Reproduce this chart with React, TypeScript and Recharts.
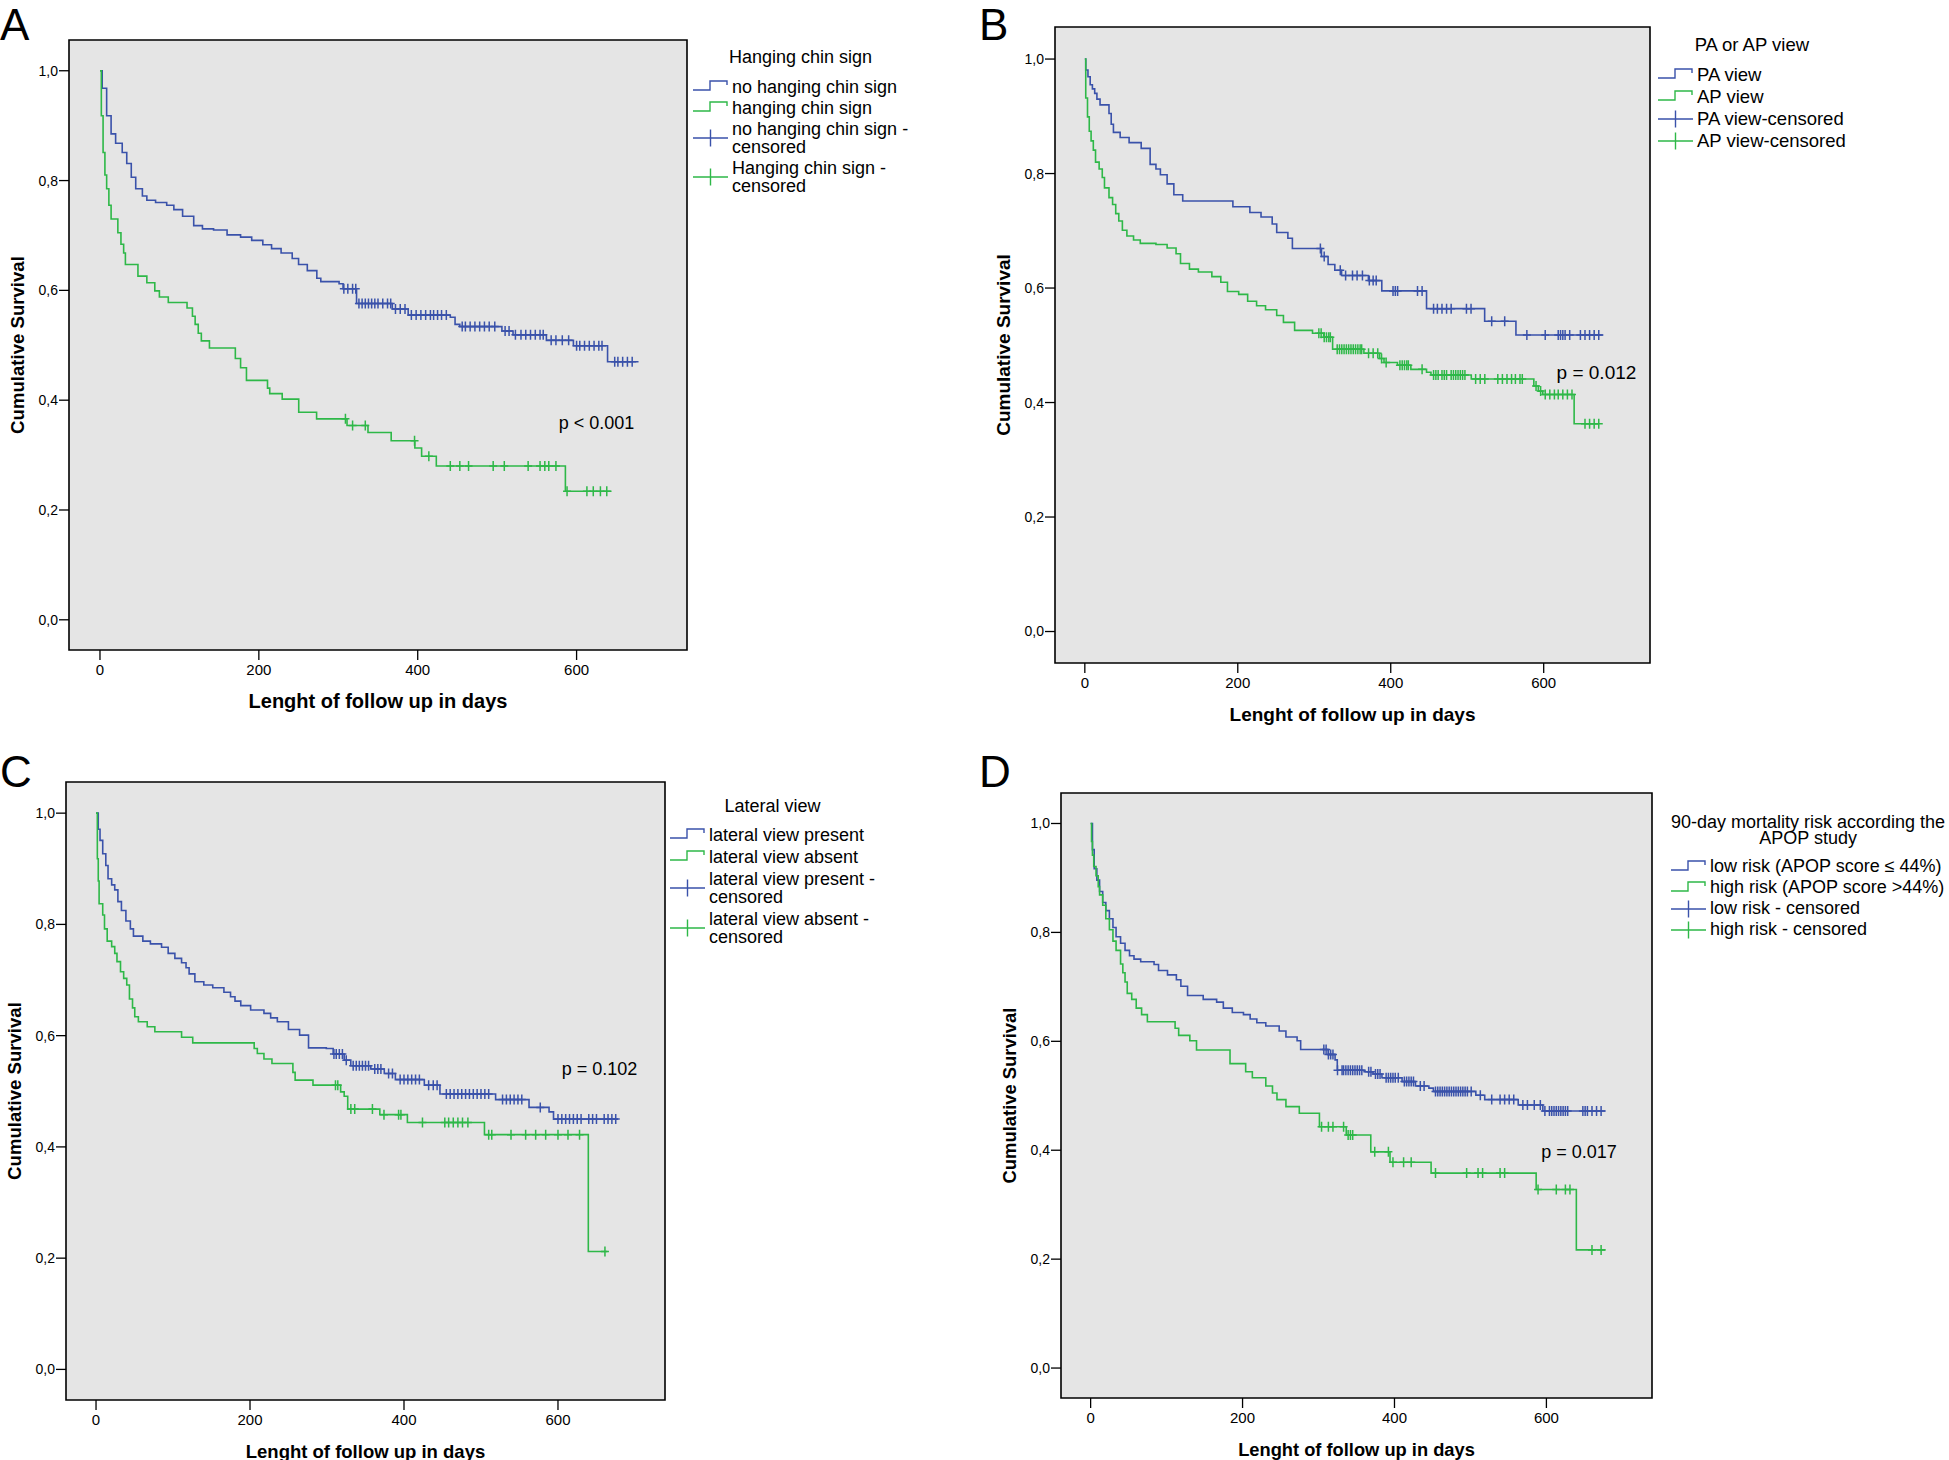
import type { CSSProperties } from "react"
import {
	ComposedChart,
	Line,
	Scatter,
	XAxis,
	YAxis,
	CartesianGrid,
	ReferenceArea,
	ReferenceDot,
} from "recharts"

type Step = [number, number]

// ---- data (days, cumulative survival)

const X_TICKS = [0, 200, 400, 600]
const Y_TICKS = [0, 0.2, 0.4, 0.6, 0.8, 1]

// A: hanging chin sign
const A_TITLE = "Hanging chin sign"
const A_LABELS = ["no hanging chin sign", "hanging chin sign", "no hanging chin sign -\ncensored", "Hanging chin sign -\ncensored"]
const A_BLUE: Step[] = [
	[0, 1], [2.8, 0.968], [8.4, 0.918], [14, 0.885], [19.7, 0.868], [28, 0.851], [33.7, 0.831], [39.4, 0.806],
	[45, 0.785], [53.4, 0.772], [59, 0.764], [70, 0.76], [84, 0.755], [93, 0.747], [104, 0.735], [118, 0.718],
	[129, 0.712], [143, 0.71], [160, 0.701], [177, 0.697], [191, 0.691], [205, 0.683], [216, 0.676], [228, 0.668],
	[242, 0.658], [250, 0.647], [261, 0.636], [273, 0.622], [278, 0.616], [301, 0.612], [306, 0.603], [323, 0.576],
	[368, 0.566], [388, 0.555], [441, 0.551], [447, 0.538], [453, 0.534], [506, 0.526], [520, 0.519], [562, 0.509],
	[596, 0.499], [639, 0.47], [678, 0.47],
]
const A_BLUE_CENS = [
	307, 312, 318, 322, 326, 330, 334, 338, 342, 346, 350, 356, 362, 366, 372, 378, 384, 392, 398, 404, 410, 416,
	420, 425, 430, 436, 456, 460, 466, 472, 478, 484, 490, 497, 510, 515, 523, 530, 536, 542, 548, 554, 558, 568,
	574, 582, 590, 600, 604, 610, 616, 622, 628, 632, 648, 652, 658, 664, 670,
]
const A_GREEN: Step[] = [
	[0, 1], [1.7, 0.918], [3.9, 0.851], [6.2, 0.81], [8.4, 0.785], [11.2, 0.755], [14, 0.73], [22.5, 0.705],
	[26.4, 0.684], [29.8, 0.668], [32, 0.647], [47.8, 0.626], [59, 0.614], [69, 0.599], [74.8, 0.588], [86, 0.578],
	[109.6, 0.568], [116.4, 0.553], [119.8, 0.538], [123.7, 0.522], [127.6, 0.508], [137.8, 0.495], [170.4, 0.476],
	[177, 0.459], [184.4, 0.436], [210.9, 0.422], [213.7, 0.412], [229.4, 0.402], [250.2, 0.378], [272.7, 0.366],
	[311, 0.354], [337.4, 0.341], [366.6, 0.326], [396.4, 0.313], [404.9, 0.298], [423.4, 0.28], [585.9, 0.234],
	[644, 0.234],
]
const A_GREEN_CENS = [309, 318, 334, 396, 414, 441, 453, 464, 495, 509, 539, 554, 560, 565, 574, 588, 613, 621, 630, 638]

// B: PA or AP view
const B_TITLE = "PA or AP view"
const B_LABELS = ["PA view", "AP view", "PA view-censored", "AP view-censored"]
const B_BLUE: Step[] = [
	[0, 1], [1.2, 0.981], [4.1, 0.969], [7, 0.955], [9.9, 0.948], [12.9, 0.94], [15.8, 0.93], [19.9, 0.92],
	[31.6, 0.905], [34.5, 0.886], [37.4, 0.872], [46.2, 0.863], [57.9, 0.854], [73.7, 0.844], [85.4, 0.816],
	[93, 0.808], [98.8, 0.798], [107.6, 0.782], [116.4, 0.763], [128, 0.752], [193.6, 0.742], [215.8, 0.732],
	[230.4, 0.724], [245, 0.712], [250.9, 0.697], [265.5, 0.687], [271.4, 0.669], [309.4, 0.655], [318.1, 0.641],
	[326.9, 0.631], [335.7, 0.622], [370.8, 0.613], [388.3, 0.595], [446.8, 0.564], [522.8, 0.542], [563.7, 0.518],
	[678, 0.518],
]
const B_BLUE_CENS = [
	308, 313, 334, 341, 350, 356, 363, 372, 377, 381, 403, 406, 409, 435, 441, 456, 461, 467, 473, 479, 499, 505,
	532, 549, 578, 602, 619, 622, 625, 628, 634, 648, 654, 660, 666, 672,
]
const B_GREEN: Step[] = [
	[0, 1], [1.2, 0.932], [3.5, 0.899], [5.8, 0.874], [8.2, 0.857], [11.1, 0.841], [14, 0.82], [18.7, 0.808],
	[22.8, 0.793], [25.7, 0.775], [31.6, 0.758], [36.3, 0.746], [40.4, 0.73], [44.4, 0.717], [49.1, 0.701],
	[55, 0.691], [63.7, 0.684], [72.5, 0.678], [93, 0.676], [107.6, 0.67], [119.3, 0.66], [125.1, 0.643],
	[136.8, 0.633], [148.5, 0.628], [166.1, 0.62], [177.8, 0.61], [186.5, 0.594], [201.2, 0.589], [212.9, 0.577],
	[224.6, 0.569], [236.3, 0.562], [250.9, 0.552], [259.7, 0.54], [274.3, 0.526], [297.7, 0.521], [312.3, 0.514],
	[324, 0.493], [364.9, 0.486], [385.4, 0.477], [391.2, 0.47], [408.8, 0.465], [426.3, 0.458], [446.8, 0.453],
	[452.6, 0.448], [505.3, 0.441], [587.1, 0.429], [593, 0.42], [598.8, 0.414], [639.8, 0.363], [672, 0.363],
]
const B_GREEN_CENS = [
	306, 309, 313, 316, 319, 321, 330, 333, 336, 339, 342, 345, 348, 351, 354, 357, 360, 362, 371, 377, 383, 388,
	394, 412, 415, 418, 421, 423, 441, 456, 459, 462, 467, 470, 473, 479, 482, 485, 488, 491, 494, 497, 511, 517,
	523, 540, 546, 552, 558, 563, 569, 572, 590, 596, 602, 608, 614, 619, 625, 631, 637, 654, 660, 666, 672,
]

// C: lateral view
const C_TITLE = "Lateral view"
const C_LABELS = ["lateral view present", "lateral view absent", "lateral view present -\ncensored", "lateral view absent -\ncensored"]
const C_BLUE: Step[] = [
	[0, 1], [2.9, 0.971], [5.2, 0.951], [8.7, 0.927], [12.7, 0.906], [15.6, 0.882], [20.3, 0.871], [24.3, 0.862],
	[28.4, 0.841], [33, 0.825], [38.8, 0.806], [44.6, 0.792], [48.6, 0.779], [60.8, 0.77], [70.6, 0.765],
	[85.1, 0.759], [93.7, 0.748], [102.4, 0.739], [111.1, 0.731], [116.9, 0.722], [120.9, 0.711], [128.4, 0.697],
	[140, 0.691], [151.6, 0.686], [166.1, 0.678], [174.7, 0.67], [180.5, 0.662], [188, 0.654], [200.8, 0.646],
	[218.1, 0.64], [226.8, 0.632], [235.5, 0.625], [249.9, 0.611], [264.4, 0.601], [276, 0.578], [299.1, 0.577],
	[308, 0.567], [322.3, 0.556], [330.9, 0.546], [356.9, 0.54], [374.4, 0.532], [388.8, 0.521], [426.4, 0.511],
	[446.7, 0.495], [519, 0.485], [562.4, 0.471], [588.4, 0.463], [594.2, 0.45], [678, 0.45],
]
const C_BLUE_CENS = [
	309, 312, 316, 320, 325, 334, 338, 342, 346, 350, 354, 362, 366, 370, 380, 385, 395, 400, 405, 410, 415, 420,
	432, 438, 443, 455, 460, 465, 470, 475, 480, 485, 490, 495, 500, 505, 510, 528, 533, 538, 543, 548, 553, 577,
	600, 605, 610, 615, 620, 625, 630, 640, 645, 650, 660, 665, 670, 675,
]
const C_GREEN: Step[] = [
	[0, 1], [1.7, 0.918], [2.9, 0.878], [4, 0.837], [8.7, 0.817], [11, 0.792], [14.5, 0.77], [20.3, 0.76],
	[24.3, 0.748], [27.2, 0.733], [31.8, 0.715], [35.9, 0.703], [39.9, 0.691], [43.4, 0.666], [47.4, 0.65],
	[50.3, 0.634], [55, 0.625], [66.5, 0.616], [76.4, 0.607], [111.1, 0.597], [125.6, 0.587], [205.4, 0.577],
	[209.5, 0.568], [218.1, 0.558], [228.5, 0.55], [255.7, 0.534], [258.6, 0.52], [281.8, 0.511], [317.7, 0.499],
	[322.3, 0.491], [326.9, 0.468], [368.6, 0.458], [404.4, 0.444], [504.5, 0.422], [639.4, 0.212], [664, 0.212],
]
const C_GREEN_CENS = [311, 314, 331, 336, 359, 374, 393, 396, 424, 453, 458, 464, 470, 476, 483, 510, 514, 539, 558, 571, 584, 600, 613, 628, 661]

// D: APOP risk
const D_TITLE = "90-day mortality risk according the\nAPOP study"
const D_LABELS = ["low risk (APOP score ≤ 44%)", "high risk (APOP score >44%)", "low risk - censored", "high risk - censored"]
const D_BLUE: Step[] = [
	[0, 1], [2.4, 0.952], [4.7, 0.917], [8.2, 0.896], [11.8, 0.875], [15.9, 0.855], [20, 0.84], [24.7, 0.825],
	[29.4, 0.809], [33.5, 0.792], [39.4, 0.78], [45.3, 0.767], [51.2, 0.757], [57.1, 0.751], [65.9, 0.746],
	[83.5, 0.741], [89.4, 0.73], [101.2, 0.722], [112.9, 0.713], [118.8, 0.701], [127.6, 0.684], [148.2, 0.677],
	[165.9, 0.672], [174.7, 0.661], [186.5, 0.653], [201.2, 0.649], [210, 0.641], [218.8, 0.634], [230.6, 0.628],
	[248.2, 0.619], [257.1, 0.608], [271.8, 0.601], [276.5, 0.585], [312.9, 0.576], [321.8, 0.566], [324.7, 0.547],
	[360, 0.544], [371.8, 0.54], [383.5, 0.533], [410, 0.526], [427.6, 0.518], [445.3, 0.514], [451.2, 0.508],
	[507.1, 0.501], [518.8, 0.493], [562.9, 0.483], [595.3, 0.472], [678, 0.472],
]
const D_BLUE_CENS = [
	307, 310, 313, 316, 319, 325, 331, 333, 336, 339, 342, 345, 348, 351, 354, 357, 366, 369, 375, 378, 381, 389,
	392, 395, 398, 401, 405, 413, 416, 419, 422, 425, 434, 439, 454, 457, 460, 463, 466, 469, 472, 475, 478, 481,
	484, 487, 490, 493, 496, 501, 513, 528, 539, 545, 551, 557, 569, 575, 584, 592, 598, 604, 607, 610, 613, 616,
	619, 622, 625, 628, 648, 651, 654, 660, 666, 672,
]
const D_GREEN: Step[] = [
	[0, 1], [1.2, 0.967], [2.4, 0.942], [4.1, 0.921], [7.1, 0.904], [10, 0.884], [11.8, 0.869], [15.9, 0.85],
	[20, 0.825], [24.7, 0.805], [29.4, 0.784], [33.5, 0.767], [39.4, 0.742], [42.4, 0.726], [45.3, 0.709],
	[48.2, 0.688], [54.1, 0.677], [60, 0.661], [67.1, 0.649], [74.7, 0.636], [111.2, 0.624], [115.9, 0.611],
	[130.6, 0.601], [139.4, 0.584], [183.5, 0.559], [204.1, 0.544], [212.9, 0.533], [230.6, 0.518], [239.4, 0.505],
	[245.3, 0.493], [257.1, 0.48], [274.7, 0.468], [301.2, 0.443], [336.5, 0.428], [368.8, 0.397], [394.1, 0.378],
	[448.2, 0.358], [586.5, 0.328], [639.4, 0.217], [678, 0.217],
]
const D_GREEN_CENS = [304, 313, 319, 333, 339, 342, 345, 374, 392, 398, 412, 422, 454, 495, 510, 516, 539, 545, 589, 613, 625, 631, 660, 672]

// ---- styling

const BLUE = "#3A52AA"
const GREEN = "#2EB848"
const PLOT_BG = "#E5E5E5"
const FONT = '"Liberation Sans", Arial, Helvetica, sans-serif'
const X_DOMAIN: [number, number] = [-39, 739]
const Y_DOMAIN: [number, number] = [-0.055, 1.056]
const YW = 64
const MT = 8
const MR = 6
const XH = 72
const X_TICK = { fill: "#000", fontSize: 15, fontFamily: FONT }
const Y_TICK = { fill: "#000", fontSize: 14, fontFamily: FONT }
const TICK_LINE = { stroke: "#000", strokeWidth: 1.3 }

interface LegendSpec {
	left: number
	top: number
	fontSize: number
	titleLineHeight: number
	lineHeight: number
	pad: number
	gap: number
}

interface PanelSpec {
	letter: string
	letterAt: [number, number]
	box: { x: number; y: number; w: number; h: number }
	blue: Step[]
	green: Step[]
	blueCens: number[]
	greenCens: number[]
	pText: string
	pAt: [number, number]
	pSize: number
	xTitleSize: number
	yTitleSize: number
	title: string
	labels: string[]
	legend: LegendSpec
}

const PANELS: PanelSpec[] = [
	{
		letter: "A", letterAt: [0, 0], box: { x: 69, y: 39.5, w: 618, h: 610 },
		blue: A_BLUE, green: A_GREEN, blueCens: A_BLUE_CENS, greenCens: A_GREEN_CENS,
		pText: "p < 0.001", pAt: [625, 0.359], pSize: 18, xTitleSize: 20, yTitleSize: 18.6,
		title: A_TITLE, labels: A_LABELS,
		legend: { left: 693, top: 48, fontSize: 18, titleLineHeight: 18, lineHeight: 18, pad: 1.5, gap: 10 },
	},
	{
		letter: "B", letterAt: [979, 0], box: { x: 1055, y: 27, w: 595, h: 636 },
		blue: B_BLUE, green: B_GREEN, blueCens: B_BLUE_CENS, greenCens: B_GREEN_CENS,
		pText: "p = 0.012", pAt: [669, 0.453], pSize: 19, xTitleSize: 19, yTitleSize: 19,
		title: B_TITLE, labels: B_LABELS,
		legend: { left: 1658, top: 34, fontSize: 18.5, titleLineHeight: 22, lineHeight: 22, pad: 0, gap: 8 },
	},
	{
		letter: "C", letterAt: [0, 747], box: { x: 66, y: 782, w: 599, h: 618 },
		blue: C_BLUE, green: C_GREEN, blueCens: C_BLUE_CENS, greenCens: C_GREEN_CENS,
		pText: "p = 0.102", pAt: [654, 0.54], pSize: 18, xTitleSize: 18.5, yTitleSize: 18.6,
		title: C_TITLE, labels: C_LABELS,
		legend: { left: 670, top: 797, fontSize: 18, titleLineHeight: 18, lineHeight: 18, pad: 2, gap: 9 },
	},
	{
		letter: "D", letterAt: [979, 747], box: { x: 1061, y: 793, w: 591, h: 605 },
		blue: D_BLUE, green: D_GREEN, blueCens: D_BLUE_CENS, greenCens: D_GREEN_CENS,
		pText: "p = 0.017", pAt: [643, 0.397], pSize: 18, xTitleSize: 18.3, yTitleSize: 18.4,
		title: D_TITLE, labels: D_LABELS,
		legend: { left: 1671, top: 813.5, fontSize: 18, titleLineHeight: 16.5, lineHeight: 21, pad: 0, gap: 9.5 },
	},
]

function toPoints(steps: Step[]) {
	return steps.map(([t, s]) => ({ t, s }))
}

// censored cases sit on the curve: look up the survival level at that day
function censorPoints(days: number[], steps: Step[]) {
	return days.map((t) => {
		let s = steps[0][1]
		for (const [st, sv] of steps) if (st <= t) s = sv
		return { t, s }
	})
}

function plusShape(color: string) {
	return (p: any) => {
		const { cx, cy } = p
		if (cx == null || cy == null) return <g />
		return <path d={`M${cx - 4},${cy}H${cx + 4}M${cx},${cy - 5}V${cy + 5}`} stroke={color} strokeWidth={1.5} fill="none" />
	}
}

function xTitle(panel: PanelSpec) {
	return (props: any) => {
		const vb = props?.viewBox
		const cx = vb && vb.width ? vb.x + vb.width / 2 : YW + panel.box.w / 2
		const top = vb && vb.y != null ? vb.y : MT + panel.box.h
		return (
			<text x={cx} y={top + 51} textAnchor="middle" dominantBaseline="central" fontFamily={FONT} fontSize={panel.xTitleSize} fontWeight="bold" fill="#000">
				Lenght of follow up in days
			</text>
		)
	}
}

function yTitle(panel: PanelSpec) {
	return (props: any) => {
		const vb = props?.viewBox
		const plotLeft = vb && vb.width ? vb.x + vb.width : YW
		const midY = vb && vb.height ? vb.y + vb.height / 2 : MT + panel.box.h / 2
		const cx = plotLeft - 52
		return (
			<text x={cx} y={midY} transform={`rotate(-90, ${cx}, ${midY})`} textAnchor="middle" dominantBaseline="central" fontFamily={FONT} fontSize={panel.yTitleSize} fontWeight="bold" fill="#000">
				Cumulative Survival
			</text>
		)
	}
}

function StepIcon({ color }: { color: string }) {
	return (
		<svg width={35} height={16} style={{ flex: "none" }}>
			<path d="M0,11H17V2H34V6" stroke={color} strokeWidth={1.4} fill="none" />
		</svg>
	)
}

function CrossIcon({ color }: { color: string }) {
	return (
		<svg width={35} height={18} style={{ flex: "none" }}>
			<path d="M0,9H35M17.5,0.5V17.5" stroke={color} strokeWidth={1.4} fill="none" />
		</svg>
	)
}

function KmLegend({ panel }: { panel: PanelSpec }) {
	const { legend, title, labels } = panel
	const box: CSSProperties = {
		position: "absolute",
		left: legend.left,
		top: legend.top,
		display: "flex",
		flexDirection: "column",
		alignItems: "center",
		fontFamily: FONT,
		fontSize: legend.fontSize,
		lineHeight: `${legend.lineHeight}px`,
		whiteSpace: "pre",
		color: "#000",
	}
	const icons = [
		<StepIcon color={BLUE} />,
		<StepIcon color={GREEN} />,
		<CrossIcon color={BLUE} />,
		<CrossIcon color={GREEN} />,
	]
	return (
		<div style={box}>
			<div style={{ textAlign: "center", lineHeight: `${legend.titleLineHeight}px` }}>{title}</div>
			<div style={{ alignSelf: "stretch", marginTop: legend.gap }}>
				{labels.map((label, i) => (
					<div key={label} style={{ display: "flex", alignItems: "center", padding: `${legend.pad}px 0` }}>
						{icons[i]}
						<span style={{ marginLeft: 4 }}>{label}</span>
					</div>
				))}
			</div>
		</div>
	)
}

function Panel({ panel }: { panel: PanelSpec }) {
	const { box } = panel
	const width = YW + box.w + MR
	const height = MT + box.h + XH
	return (
		<>
			<div style={{ position: "absolute", left: box.x - YW, top: box.y - MT }}>
				<ComposedChart width={width} height={height} margin={{ top: MT, right: MR, bottom: 0, left: 0 }}>
					<CartesianGrid fill={PLOT_BG} horizontal={false} vertical={false} />
					<XAxis
						type="number"
						dataKey="t"
						domain={X_DOMAIN}
						ticks={X_TICKS}
						allowDataOverflow
						height={XH}
						axisLine={false}
						tickLine={TICK_LINE}
						tickSize={10}
						tickMargin={4}
						tick={X_TICK}
						label={xTitle(panel)}
					/>
					<YAxis
						type="number"
						dataKey="s"
						domain={Y_DOMAIN}
						ticks={Y_TICKS}
						allowDataOverflow
						width={YW}
						axisLine={false}
						tickLine={TICK_LINE}
						tickSize={10}
						tickMargin={1}
						tick={Y_TICK}
						tickFormatter={(v: number) => v.toFixed(1).replace(".", ",")}
						label={yTitle(panel)}
					/>
					<Line data={toPoints(panel.blue)} dataKey="s" type="stepAfter" stroke={BLUE} strokeWidth={1.6} dot={false} activeDot={false} isAnimationActive={false} />
					<Line data={toPoints(panel.green)} dataKey="s" type="stepAfter" stroke={GREEN} strokeWidth={1.6} dot={false} activeDot={false} isAnimationActive={false} />
					<Scatter data={censorPoints(panel.blueCens, panel.blue)} dataKey="s" shape={plusShape(BLUE)} isAnimationActive={false} />
					<Scatter data={censorPoints(panel.greenCens, panel.green)} dataKey="s" shape={plusShape(GREEN)} isAnimationActive={false} />
					<ReferenceDot
						x={panel.pAt[0]}
						y={panel.pAt[1]}
						r={0}
						fill="none"
						stroke="none"
						ifOverflow="visible"
						label={{ value: panel.pText, position: "center", fill: "#000", fontSize: panel.pSize, fontFamily: FONT }}
					/>
					<ReferenceArea
						x1={X_DOMAIN[0]}
						x2={X_DOMAIN[1]}
						y1={Y_DOMAIN[0]}
						y2={Y_DOMAIN[1]}
						fill="none"
						fillOpacity={0}
						stroke="#000"
						strokeWidth={1.6}
						ifOverflow="visible"
					/>
				</ComposedChart>
			</div>
			<div
				style={{
					position: "absolute",
					left: panel.letterAt[0],
					top: panel.letterAt[1],
					fontFamily: FONT,
					fontSize: 44,
					lineHeight: "50px",
					color: "#000",
				}}
			>
				{panel.letter}
			</div>
			<KmLegend panel={panel} />
		</>
	)
}

export default function App() {
	return (
		<div style={{ position: "absolute", left: 0, top: 0, width: 1949, height: 1460, background: "#fff", overflow: "hidden" }}>
			{PANELS.map((p) => (
				<Panel key={p.letter} panel={p} />
			))}
		</div>
	)
}
